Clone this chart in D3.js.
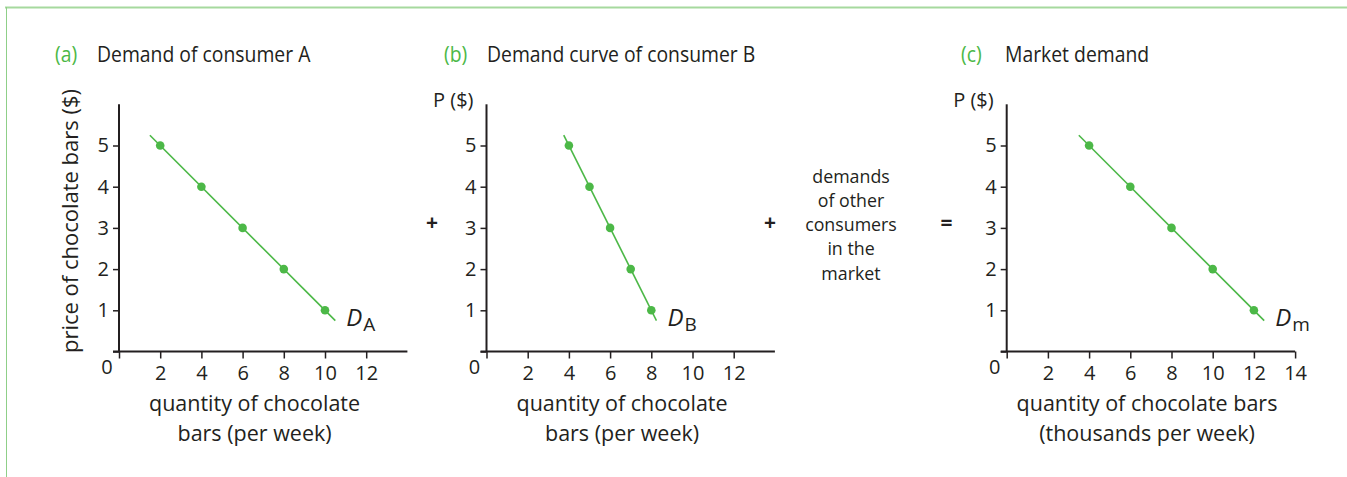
<!DOCTYPE html>
<html>
<head>
<meta charset="utf-8">
<script src="https://cdn.jsdelivr.net/npm/d3@7"></script>
<style>
  html, body { margin: 0; padding: 0; background: #fff; }
  svg { display: block; }
  text { font-family: "Open Sans", "Noto Sans", sans-serif; fill: #231f20; }
</style>
</head>
<body>
<svg id="chart" width="1347" height="477"></svg>
<script>
// ---------- data ----------
const prices = [5, 4, 3, 2, 1];
const qtyA = [2, 4, 6, 8, 10];
const qtyB = [4, 5, 6, 7, 8];
const qtyM = [4, 6, 8, 10, 12];
// extended demand lines (ends of each drawn line)
const lineQtyA = [1.5, 10.5];
const lineQtyB = [3.75, 8.25];
const lineQtyM = [3.5, 12.5];
const linePrices = [5.25, 0.75];
const yTicks = [0, 1, 2, 3, 4, 5];
const xTicksAB = [0, 2, 4, 6, 8, 10, 12];
const xTicksC = [0, 2, 4, 6, 8, 10, 12, 14];
const titles = ["Demand of consumer A", "Demand curve of consumer B", "Market demand"];
const letters = ["(a)", "(b)", "(c)"];
const subs = ["A", "B", "m"];
const xLabels = [["quantity of chocolate", "bars (per week)"],
                 ["quantity of chocolate", "bars (per week)"],
                 ["quantity of chocolate bars", "(thousands per week)"]];
const othersText = ["demands", "of other", "consumers", "in the", "market"];

const GREEN = "#4cb847";
const DARK = "#231f20";
const svg = d3.select("#chart");

// frame
svg.append("line").attr("x1", 5).attr("x2", 1347).attr("y1", 7.5).attr("y2", 7.5)
  .attr("stroke", "#a6d99e").attr("stroke-width", 2);
svg.append("line").attr("x1", 6.5).attr("x2", 6.5).attr("y1", 7).attr("y2", 477)
  .attr("stroke", "#8fcf88").attr("stroke-width", 1);

const panels = [
  { x0: 119,   qty: qtyA, lq: lineQtyA, xt: xTicksAB, lc: 6.58 },
  { x0: 486.5, qty: qtyB, lq: lineQtyB, xt: xTicksAB, lc: 6.58 },
  { x0: 1006.7, qty: qtyM, lq: lineQtyM, xt: xTicksC, lc: 6.81 }
];
const titleX = [[55, 97], [444, 487], [961, 1005]];
const y0 = 351.5;
const pxPerQ = 20.6, pxPerP = 41.2;

panels.forEach((p, i) => {
  const x = d3.scaleLinear().domain([0, 14]).range([p.x0, p.x0 + 14 * pxPerQ]);
  const y = d3.scaleLinear().domain([0, 6]).range([y0, y0 - 6 * pxPerP]);
  const g = svg.append("g");

  // title (slightly condensed face)
  g.append("g").attr("transform", `translate(${titleX[i][0]},62) scale(0.88,1)`)
    .append("text").text(letters[i]).style("fill", GREEN).style("font-size", "22px");
  g.append("g").attr("transform", `translate(${titleX[i][1]},62) scale(0.88,1)`)
    .append("text").text(titles[i]).style("font-size", "22px");

  // axes
  const yAxis = d3.axisLeft(y).tickValues(yTicks).tickSize(6).tickPadding(4)
    .tickFormat(d => d === 0 ? "" : d);
  const xAxis = d3.axisBottom(x).tickValues(p.xt).tickSize(7).tickPadding(7)
    .tickFormat(d => d === 0 ? "" : d);
  const ga = g.append("g").attr("transform", `translate(${p.x0},0)`).call(yAxis);
  const gb = g.append("g").attr("transform", `translate(0,${y0})`).call(xAxis);
  [ga, gb].forEach(a => {
    a.select(".domain").attr("stroke", DARK).attr("stroke-width", 2)
      .attr("d", a === ga ? `M0,${y(6)}V${y0}` : `M${p.x0 - 6},0H${x(14)}`);
    a.selectAll(".tick line").attr("stroke", DARK).attr("stroke-width", 1.5);
    a.selectAll(".tick text").style("font-size", "20px").style("fill", DARK)
      .style("font-family", '"Open Sans", sans-serif');
  });
  g.append("text").attr("x", p.x0 - 12).attr("y", y0 + 22).attr("text-anchor", "middle")
    .text("0").style("font-size", "20px");

  // demand line and points
  const pts = p.qty.map((q, k) => [q, prices[k]]);
  g.append("line")
    .attr("x1", x(p.lq[0])).attr("y1", y(linePrices[0]))
    .attr("x2", x(p.lq[1])).attr("y2", y(linePrices[1]))
    .attr("stroke", GREEN).attr("stroke-width", 1.6);
  g.selectAll("circle").data(pts).enter().append("circle")
    .attr("cx", d => x(d[0])).attr("cy", d => y(d[1])).attr("r", 4.3)
    .attr("fill", GREEN);

  // D label
  const dl = g.append("text").attr("x", x(p.lq[1]) + 11).attr("y", y(linePrices[1]) + 5)
    .style("font-size", "24px");
  dl.append("tspan").text("D").style("font-style", "italic");
  dl.append("tspan").text(subs[i]).attr("dy", 5).attr("dx", 1).style("font-size", "19px");

  // x label (two lines in one text)
  const xl = g.append("text").attr("text-anchor", "middle").style("font-size", "21.5px");
  xLabels[i].forEach((t, k) => {
    xl.append("tspan").attr("x", x(p.lc)).attr("y", 411 + k * 29.5).text(t);
  });

  // y label
  if (i === 0) {
    g.append("text").attr("transform", `translate(78,221) rotate(-90)`)
      .attr("text-anchor", "middle").text("price of chocolate bars ($)")
      .style("font-size", "22px");
  } else {
    g.append("text").attr("x", p.x0 - 13).attr("y", 107).attr("text-anchor", "end")
      .text("P ($)").style("font-size", "20px");
  }
});

// operators
const ops = [["+", 432], ["+", 770], ["=", 946.5]];
ops.forEach(o => svg.append("text").attr("x", o[1]).attr("y", 230).attr("text-anchor", "middle")
  .text(o[0]).style("font-size", "21px").style("font-weight", "bold"));
const ot = svg.append("text").attr("text-anchor", "middle").style("font-size", "17.8px");
othersText.forEach((t, k) => ot.append("tspan").attr("x", 851).attr("y", 182.5 + k * 24.3).text(t));
</script>
</body>
</html>
